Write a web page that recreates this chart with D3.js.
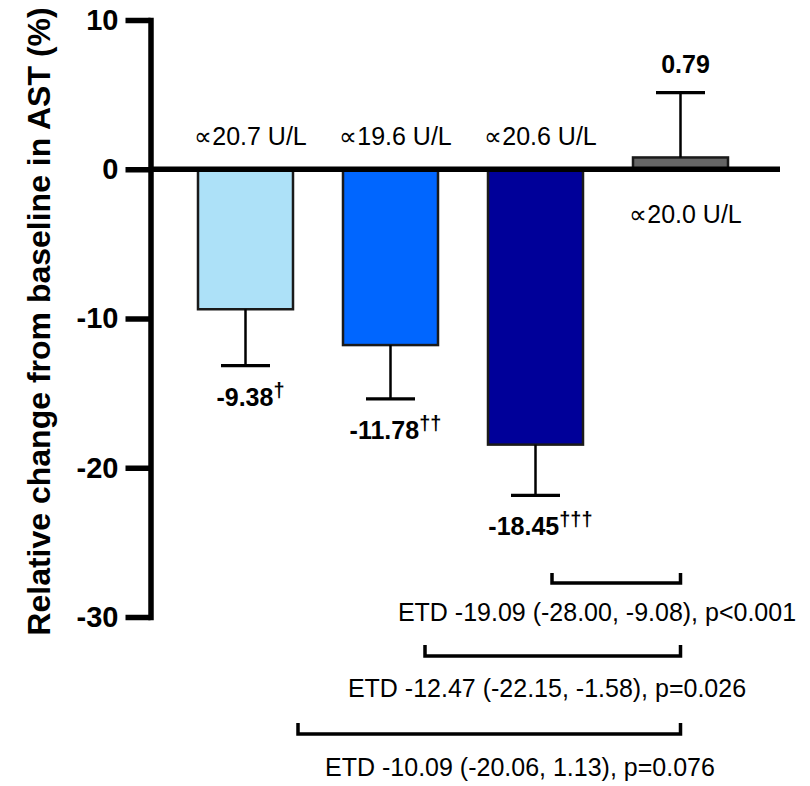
<!DOCTYPE html>
<html>
<head>
<meta charset="utf-8">
<script src="https://cdn.jsdelivr.net/npm/d3@7"></script>
<style>
  html, body { margin: 0; padding: 0; background: #fff; }
  svg { display: block; }
  text { font-family: "Liberation Sans", Arial, Helvetica, sans-serif; }
</style>
</head>
<body>
<svg id="chart" width="810" height="786"></svg>
<script>
// ---- data ----
const categories = ["Group 1", "Group 2", "Group 3", "Placebo"];
const values = [-9.38, -11.78, -18.45, 0.79];
const errors = [3.78, 3.61, 3.40, 4.34];
const valueLabels = ["-9.38", "-11.78", "-18.45", "0.79"];
const markers = ["\u2020", "\u2020\u2020", "\u2020\u2020\u2020", ""];
const baselineLabels = ["\u221D20.7 U/L", "\u221D19.6 U/L", "\u221D20.6 U/L", "\u221D20.0 U/L"];
const yTicks = [10, 0, -10, -20, -30];
const yTitle = "Relative change from baseline in AST (%)";
const compFrom = ["Group 3", "Group 2", "Group 1"];
const compTo = ["Placebo", "Placebo", "Placebo"];
const compText = [
  "ETD -19.09 (-28.00, -9.08), p<0.001",
  "ETD -12.47 (-22.15, -1.58), p=0.026",
  "ETD -10.09 (-20.06, 1.13), p=0.076"
];

// ---- layout / style ----
const colors = ["#ADE1F8", "#0066FF", "#000099", "#666666"];
const axisX = 150.5;
const zeroLineEnd = 780;
const bracketLayout = [
  { leftOffset: 64, top: 573, bottom: 583, textX: 597, textY: 621 },
  { leftOffset: 82, top: 645, bottom: 656, textX: 547, textY: 697 },
  { leftOffset: 100, top: 723, bottom: 734, textX: 520, textY: 776 }
];

const svg = d3.select("#chart");

const y = d3.scaleLinear().domain([-30, 10]).range([617, 20]);
const x = d3.scaleBand().domain(categories).range([173, 753])
  .paddingInner(50 / 145).paddingOuter(25 / 145);

// bars
const data = categories.map((c, i) => ({ c, v: values[i], e: errors[i], i }));

svg.append("g").selectAll("rect").data(data).join("rect")
  .attr("x", d => x(d.c))
  .attr("width", x.bandwidth())
  .attr("y", d => Math.min(y(d.v), y(0)))
  .attr("height", d => Math.abs(y(d.v) - y(0)))
  .attr("fill", d => colors[d.i])
  .attr("stroke", "#1a1a1a")
  .attr("stroke-width", 2.5);

// error bars
const eb = svg.append("g");
data.forEach(d => {
  const cx = x(d.c) + x.bandwidth() / 2;
  const end = d.v < 0 ? d.v - d.e : d.v + d.e;
  eb.append("line")
    .attr("x1", cx).attr("x2", cx)
    .attr("y1", y(d.v)).attr("y2", y(end))
    .attr("stroke", "#000").attr("stroke-width", 2.5);
  eb.append("line")
    .attr("x1", cx - 24.5).attr("x2", cx + 24.5)
    .attr("y1", y(end)).attr("y2", y(end))
    .attr("stroke", "#000").attr("stroke-width", 3.2);
});

// zero line
svg.append("line")
  .attr("x1", axisX).attr("x2", zeroLineEnd)
  .attr("y1", y(0)).attr("y2", y(0))
  .attr("stroke", "#000").attr("stroke-width", 5.5);

// y axis
const yAxis = d3.axisLeft(y).tickValues(yTicks).tickSize(25).tickSizeOuter(0)
  .tickPadding(7).tickFormat(d => String(d));
const gy = svg.append("g").attr("transform", `translate(${axisX},0)`).call(yAxis);
gy.select(".domain").attr("stroke-width", 5.5).attr("stroke-linecap", "square").attr("stroke", "#000");
gy.selectAll(".tick line").attr("stroke-width", 5.5).attr("stroke", "#000");
gy.selectAll(".tick text")
  .attr("font-size", 29).attr("font-weight", "bold").attr("fill", "#000")
  .style("font-family", "'Liberation Sans', Arial, sans-serif");

// y title
svg.append("text")
  .attr("transform", `translate(50,${(y(10) + y(-30)) / 2 + 3}) rotate(-90)`)
  .attr("text-anchor", "middle")
  .attr("font-size", 32).attr("font-weight", "bold")
  .text(yTitle);

// baseline labels
svg.append("g").selectAll("text").data(data).join("text")
  .attr("x", d => x(d.c) + x.bandwidth() / 2 + 5)
  .attr("y", d => d.v < 0 ? y(0) - 24 : y(0) + 54)
  .attr("text-anchor", "middle")
  .attr("font-size", 25)
  .text(d => baselineLabels[d.i]);

// value labels
const vl = svg.append("g").selectAll("text").data(data).join("text")
  .attr("x", d => x(d.c) + x.bandwidth() / 2 + 5)
  .attr("y", d => d.v < 0 ? y(d.v - d.e) + 40 : y(d.v + d.e) - 20)
  .attr("text-anchor", "middle")
  .attr("font-size", 25).attr("font-weight", "bold");
vl.append("tspan").text(d => valueLabels[d.i]);
vl.append("tspan").attr("font-size", 20).attr("dy", -9).text(d => markers[d.i]);

// comparison brackets
const gb = svg.append("g");
compFrom.forEach((f, i) => {
  const L = bracketLayout[i];
  const x1 = x(f) + L.leftOffset;
  const x2 = x(compTo[i]) + x.bandwidth() / 2;
  gb.append("path")
    .attr("d", `M${x1},${L.top}V${L.bottom}H${x2}V${L.top}`)
    .attr("fill", "none").attr("stroke", "#000").attr("stroke-width", 3.5)
    .attr("stroke-linejoin", "miter");
  gb.append("text")
    .attr("x", L.textX).attr("y", L.textY)
    .attr("text-anchor", "middle")
    .attr("font-size", 25)
    .text(compText[i]);
});
</script>
</body>
</html>
